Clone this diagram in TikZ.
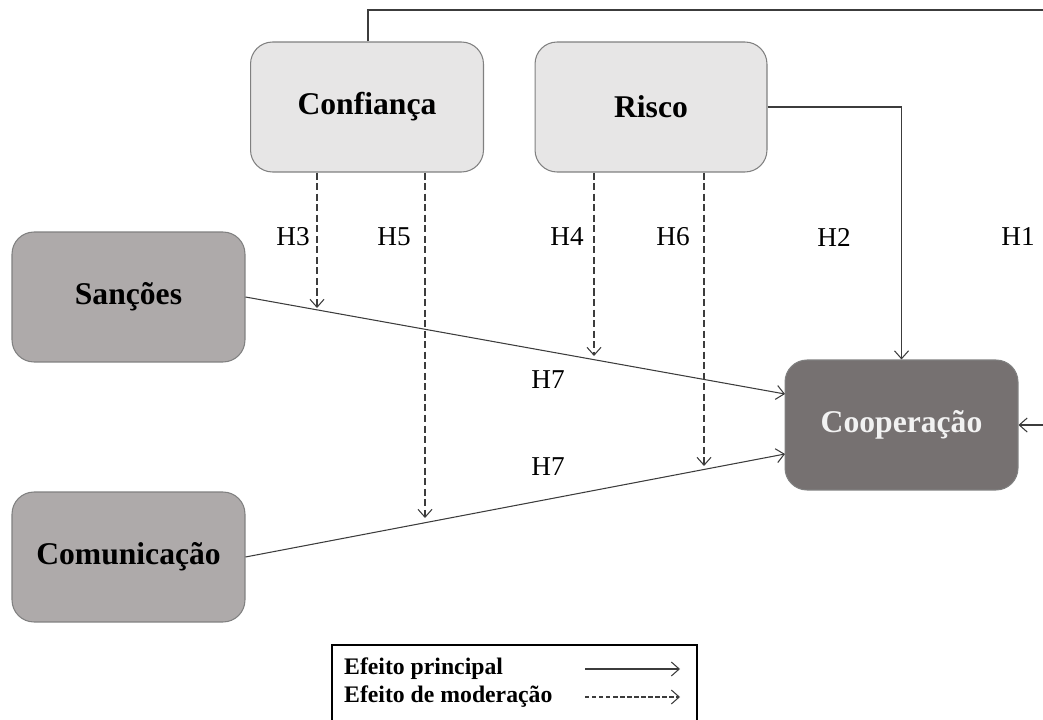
\documentclass[tikz,border=0pt]{standalone}
\usepackage{fontspec}
\setmainfont{Liberation Serif}
\usetikzlibrary{arrows.meta}
\definecolor{lightbox}{RGB}{231,230,230}
\definecolor{midbox}{RGB}{174,170,170}
\definecolor{darkbox}{RGB}{118,113,113}
\definecolor{edgegray}{RGB}{128,128,128}
\definecolor{linegray}{RGB}{60,60,60}
\begin{document}
\begin{tikzpicture}[x=0.02cm, y=-0.02cm,
    box/.style={draw=edgegray, line width=0.6pt, rounded corners=0.44cm,
        minimum width=4.66cm, minimum height=2.6cm,
        font=\fontsize{18}{21}\selectfont\bfseries},
    main/.style={draw=linegray, line width=0.6pt, -{Straight Barb[length=4.5pt,width=8pt]}},
    moder/.style={main, dash pattern=on 4pt off 2pt},
    hlab/.style={font=\fontsize{15.5}{18}\selectfont},
    leg/.style={anchor=west, font=\fontsize{13.5}{15}\selectfont\bfseries}]
    \useasboundingbox (0,0) rectangle (1043,719);
    \node[box, fill=lightbox] (conf) at (367,107) {Confiança};
    \node[box, fill=lightbox, minimum width=4.64cm] (risco) at (651,107) {Risco};
    \node[box, fill=midbox] (sanc) at (128.5,297) {Sanções};
    \node[box, fill=midbox] (comun) at (128.5,557) {Comunicação};
    \node[box, fill=darkbox, text=white!95!black] (coop) at (901.5,425) {Cooperação};
    % main effects
    \coordinate (h1top) at (368,10);
    \coordinate (h1right) at (1060,10);
    \coordinate (sancin) at (785,394);
    \coordinate (comunin) at (785,454);
    \draw[main] (conf.north -| h1top) |- (h1right) |- (coop.east);
    \draw[main] (risco.east) -| (coop.north);
    \draw[main] (sanc.east) -- (sancin);
    \draw[main] (comun.east) -- (comunin);
    % moderation
    \coordinate (h3end) at (317,308);
    \coordinate (h5end) at (425,518);
    \coordinate (h4end) at (594,356);
    \coordinate (h6end) at (704,466);
    \draw[moder] (conf.south -| h3end) -- (h3end);
    \draw[moder] (conf.south -| h5end) -- (h5end);
    \draw[moder] (risco.south -| h4end) -- (h4end);
    \draw[moder] (risco.south -| h6end) -- (h6end);
    \node[hlab] (h3) at (293,237) {H3};
    \node[hlab] (h5) at (394,237) {H5};
    \node[hlab] (h4) at (567,237) {H4};
    \node[hlab] (h6) at (673,237) {H6};
    \node[hlab] (h2) at (834,237) {H2};
    \node[hlab] (h1) at (1018,237) {H1};
    \node[hlab] (h7a) at (548,380) {H7};
    \node[hlab] (h7b) at (548,467) {H7};
    % legend
    \node[draw=black, line width=0.9pt, minimum width=7.3cm, minimum height=1.6cm] (legend) at (514.5,685) {};
    \node[leg] (lmain) at (338,669) {Efeito principal};
    \node[leg] (lmod) at (338,697) {Efeito de moderação};
    \coordinate (lmainA) at (585,669);
    \coordinate (lmainB) at (680,669);
    \coordinate (lmodA) at (585,697);
    \coordinate (lmodB) at (680,697);
    \draw[main] (lmainA) -- (lmainB);
    \draw[main, dash pattern=on 2.5pt off 1.5pt] (lmodA) -- (lmodB);
\end{tikzpicture}
\end{document}
